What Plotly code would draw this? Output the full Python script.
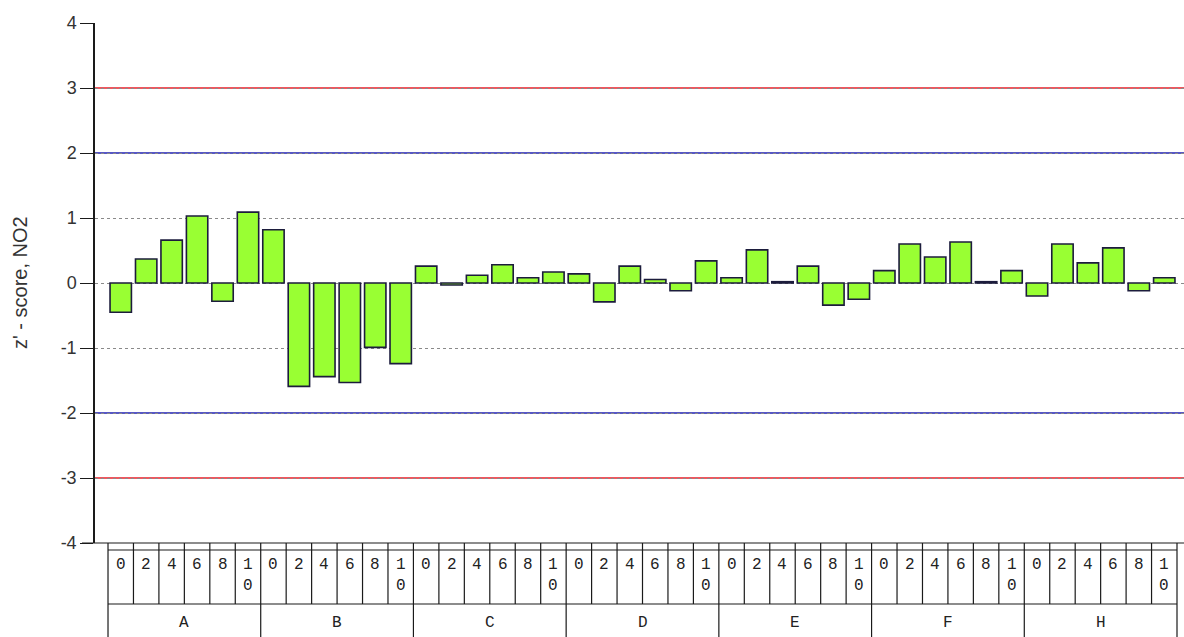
import plotly.graph_objects as go

# ---- data ----
groups = ["A", "B", "C", "D", "E", "F", "H"]
sub_labels = ["0", "2", "4", "6", "8", "10"]
z_A = [-0.45, 0.37, 0.66, 1.03, -0.28, 1.09]
z_B = [0.82, -1.59, -1.44, -1.53, -0.99, -1.24]
z_C = [0.26, -0.03, 0.12, 0.28, 0.08, 0.17]
z_D = [0.14, -0.29, 0.26, 0.055, -0.12, 0.34]
z_E = [0.08, 0.51, 0.02, 0.26, -0.34, -0.25]
z_F = [0.19, 0.60, 0.40, 0.63, 0.02, 0.19]
z_H = [-0.20, 0.60, 0.31, 0.54, -0.12, 0.08]
values = z_A + z_B + z_C + z_D + z_E + z_F + z_H
y_ticks = [4, 3, 2, 1, 0, -1, -2, -3, -4]
red_limits = [3, -3]
blue_limits = [2, -2]

# ---- layout geometry (pixels) ----
W, H = 1184, 637
ML, MR, MT, MB = 95, 0, 23, 94
PLOT_H = H - MT - MB
PLOT_W = W - ML - MR


def py(y):
    return (H - MB - y) / PLOT_H


def px(x):
    return (x - ML) / PLOT_W


n_sub = len(sub_labels)
n = len(groups) * n_sub
xs = list(range(n))

fig = go.Figure()
fig.add_trace(go.Bar(
    x=xs, y=values, width=0.84,
    marker=dict(color="#99FF33", line=dict(color="#1c1c3c", width=1.6)),
    hoverinfo="y", showlegend=False,
))

shapes = []
for v in red_limits:
    shapes.append(dict(type="line", xref="paper", yref="y", x0=0, x1=1, y0=v, y1=v,
                       line=dict(color="#e8202a", width=1.3), layer="below"))
for v in blue_limits:
    shapes.append(dict(type="line", xref="paper", yref="y", x0=0, x1=1, y0=v, y1=v,
                       line=dict(color="#2020b0", width=1.3), layer="below"))

lc = dict(color="#1a1a1a", width=1.2)
# x axis base line
shapes.append(dict(type="line", xref="paper", yref="paper", x0=px(82), x1=1, y0=0, y1=0, line=lc))
# table horizontal lines
for yy in (550, 604):
    shapes.append(dict(type="line", xref="x", yref="paper", x0=-0.5, x1=n - 0.5,
                       y0=py(yy), y1=py(yy), line=lc))
# sub-row vertical lines
for i in range(n + 1):
    shapes.append(dict(type="line", xref="x", yref="paper", x0=i - 0.5, x1=i - 0.5,
                       y0=py(543), y1=py(604), line=lc))
# group-row vertical lines
for g in range(len(groups) + 1):
    xv = g * n_sub - 0.5
    shapes.append(dict(type="line", xref="x", yref="paper", x0=xv, x1=xv,
                       y0=py(604), y1=py(H + 2), line=lc))

annotations = []
FS = 16
tfont = dict(family="Courier New, Liberation Mono, monospace", size=FS, color="#222")
line_gap = 1.3 * FS
for g, grp in enumerate(groups):
    for j, lab in enumerate(sub_labels):
        i = g * n_sub + j
        yc = 565 + (len(lab) - 1) * line_gap / 2
        annotations.append(dict(x=i, y=py(yc), xref="x", yref="paper",
                                text="<br>".join(list(lab)), showarrow=False,
                                yanchor="middle", xanchor="center", font=tfont))
    annotations.append(dict(x=g * n_sub + (n_sub - 1) / 2, y=py(623), xref="x", yref="paper",
                            text=grp, showarrow=False, yanchor="middle", xanchor="center",
                            font=tfont))

annotations.append(dict(x=px(20), y=0.5, xref="paper", yref="paper",
                        text="z' - score, NO2", textangle=-90, showarrow=False,
                        xanchor="center", yanchor="middle",
                        font=dict(family="Arial, Liberation Sans, sans-serif", size=20, color="#333")))

fig.update_layout(
    width=W, height=H,
    margin=dict(l=ML, r=MR, t=MT, b=MB, pad=0),
    paper_bgcolor="white", plot_bgcolor="white",
    bargap=0.16,
    shapes=shapes, annotations=annotations,
    xaxis=dict(range=[-1.011, n - 0.5 + 0.275], showticklabels=False, showgrid=False,
               zeroline=False, showline=False, ticks="", fixedrange=True),
    yaxis=dict(range=[-4, 4], tickvals=y_ticks, ticktext=[str(t) for t in y_ticks],
               showgrid=True, gridcolor="#8a8a8a", griddash="dot", gridwidth=1,
               zeroline=False, showline=True, linecolor="#1a1a1a", linewidth=1.5,
               ticks="outside", ticklen=13, tickcolor="#1a1a1a", tickwidth=1.2,
               tickfont=dict(family="Arial, Liberation Sans, sans-serif", size=18, color="#333"),
               fixedrange=True),
)

fig.write_html("out.html", config={"displayModeBar": False},
               post_script="document.body.style.margin='0';document.body.style.overflow='hidden';")
